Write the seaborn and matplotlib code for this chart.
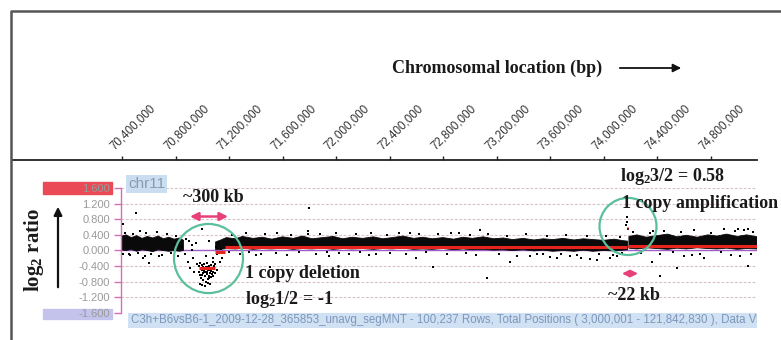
import numpy as np
import pandas as pd
import matplotlib
matplotlib.use("Agg")
import matplotlib.pyplot as plt
import matplotlib.transforms as mtrans
import seaborn as sns
from matplotlib.patches import Ellipse, Rectangle, FancyArrowPatch
from matplotlib.lines import Line2D

sns.set_theme(style="white")
plt.rcParams["font.family"] = ["Liberation Sans", "DejaVu Sans"]
plt.rcParams["mathtext.fontset"] = "custom"
plt.rcParams["mathtext.rm"] = "Liberation Serif:bold"
plt.rcParams["mathtext.it"] = "Liberation Serif:bold"
plt.rcParams["mathtext.bf"] = "Liberation Serif:bold"

# ---------------- data ----------------
x_ticks = [70.4e6, 70.8e6, 71.2e6, 71.6e6, 72.0e6, 72.4e6, 72.8e6,
           73.2e6, 73.6e6, 74.0e6, 74.4e6, 74.8e6]
x_tick_labels = ["70,400,000", "70,800,000", "71,200,000", "71,600,000",
                 "72,000,000", "72,400,000", "72,800,000", "73,200,000",
                 "73,600,000", "74,000,000", "74,400,000", "74,800,000"]
y_ticks = [1.6, 1.2, 0.8, 0.4, 0.0, -0.4, -0.8, -1.2, -1.6]
y_tick_labels = ["1.600", "1.200", "0.800", "0.400", "0.000",
                 "-0.400", "-0.800", "-1.200", "-1.600"]

# dense band of probe ratios (position in Mb, upper / lower edge)
band_pos_mb = [70.39, 70.43, 70.47, 70.51, 70.55, 70.59, 70.63, 70.67, 70.71,
               70.75, 70.79, 70.83, 70.86, np.nan,
               71.10, 71.14, 71.18, 71.25, 71.30, 71.38, 71.45, 71.52, 71.60,
               71.68, 71.75, 71.82, 71.90, 71.98, 72.05, 72.12, 72.20, 72.28,
               72.35, 72.42, 72.50, 72.58, 72.65, 72.72, 72.80, 72.88, 72.95,
               73.02, 73.10, 73.18, 73.25, 73.32, 73.40, 73.48, 73.55, 73.62,
               73.70, 73.78, 73.85, 73.92, 74.00, 74.08, 74.15, 74.18, np.nan,
               74.19, 74.25, 74.32, 74.40, 74.48, 74.55, 74.62, 74.70, 74.78,
               74.85, 74.92, 75.00, 75.07, 75.15]
band_hi = [0.36, 0.40, 0.33, 0.38, 0.31, 0.36, 0.32, 0.37, 0.30,
           0.34, 0.29, 0.32, 0.26, np.nan,
           0.22, 0.27, 0.33, 0.30, 0.36, 0.31, 0.34, 0.29, 0.35,
           0.31, 0.37, 0.30, 0.33, 0.36, 0.30, 0.34, 0.31, 0.35,
           0.30, 0.33, 0.37, 0.31, 0.34, 0.30, 0.33, 0.29, 0.34,
           0.31, 0.35, 0.30, 0.32, 0.28, 0.31, 0.27, 0.30, 0.28,
           0.31, 0.27, 0.30, 0.28, 0.26, 0.29, 0.25, 0.24, np.nan,
           0.36, 0.40, 0.34, 0.38, 0.42, 0.35, 0.39, 0.34, 0.40,
           0.37, 0.42, 0.36, 0.40, 0.35]
band_lo = [0.02, 0.00, 0.03, -0.02, 0.02, 0.00, -0.03, 0.02, 0.00,
           -0.02, 0.00, -0.02, 0.00, np.nan,
           0.02, 0.03, 0.05, 0.04, 0.06, 0.03, 0.05, 0.04, 0.06,
           0.03, 0.05, 0.04, 0.06, 0.03, 0.05, 0.04, 0.05, 0.03,
           0.05, 0.04, 0.06, 0.03, 0.04, 0.03, 0.05, 0.02, 0.04,
           0.02, 0.03, 0.01, 0.02, 0.00, 0.02, -0.01, 0.01, -0.02,
           0.00, -0.02, 0.01, -0.02, 0.00, -0.01, 0.01, 0.02, np.nan,
           0.06, 0.04, 0.07, 0.05, 0.03, 0.06, 0.04, 0.07, 0.05,
           0.04, 0.06, 0.03, 0.05, 0.04]

# probes inside the ~300 kb deletion (Mb, log2 ratio)
del_pos_mb = [70.975, 70.978, 70.982, 70.985, 70.988, 70.992, 70.995, 70.998,
              71.002, 71.005, 71.008, 71.012, 71.015, 71.018, 71.022, 71.025,
              71.028, 71.032, 71.035, 71.038, 71.042, 71.045, 71.048, 71.052,
              71.055, 71.058, 71.062, 71.065, 71.068, 71.072, 71.075, 71.078,
              71.082, 71.085, 71.088, 71.092, 71.095, 71.000, 71.020, 71.040,
              71.060, 71.080, 70.990, 71.010, 71.050]
del_val = [-0.40, -0.55, -0.32, -0.62, -0.45, -0.70, -0.38, -0.50,
           -0.58, -0.43, -0.75, -0.35, -0.52, -0.66, -0.47, -0.80,
           -0.41, -0.60, -0.55, -0.33, -0.72, -0.49, -0.64, -0.39,
           -0.57, -0.46, -0.68, -0.36, -0.52, -0.61, -0.44, -0.30,
           -0.55, -0.48, -0.40, -0.58, -0.35, -0.62, -0.56, -0.42,
           -0.50, -0.65, -0.48, -0.45, -0.70]

# scattered probes around the band (Mb, log2 ratio)
pt_pos_mb = [70.407, 70.505, 70.535, 70.998, 71.798, 71.790, 72.553, 72.920,
             73.077, 71.507, 72.725, 73.129, 73.300, 74.423, 74.363, 74.550,
             75.080, 75.006, 75.080, 74.370, 74.176, 74.176, 74.183, 74.168,
             70.600, 70.680, 70.790, 70.450, 70.560,
             70.85, 70.87, 70.89, 70.90, 70.91, 70.92, 70.93, 70.94, 70.95,
             70.96, 70.88, 70.92,
             71.10, 71.11, 71.12, 71.13, 71.14, 71.11, 71.15,
             70.98, 71.00, 71.02, 71.04, 71.06, 71.08, 71.03, 71.05,
             71.40, 71.95, 72.30, 72.60, 73.45, 73.65, 73.80, 73.95, 74.05,
             74.60, 74.75, 74.95, 72.10, 73.55, 73.90, 74.10]
pt_val = [0.69, 0.95, 0.50, 0.55, 1.10, 0.50, 0.45, 0.45,
          0.53, -0.43, -0.43, -0.70, -0.30, -0.65, -0.30, -0.45,
          -0.40, 0.56, 0.56, 0.50, 0.85, 0.72, 0.56, 0.65,
          -0.33, -0.13, -0.18, -0.10, -0.20,
          0.10, -0.10, -0.30, 0.25, -0.45, 0.00, -0.20, -0.55, 0.20,
          -0.35, 0.30, 0.15,
          0.10, -0.10, 0.20, -0.30, 0.05, -0.50, -0.20,
          -0.85, -0.88, -0.90, -0.82, -0.86, -0.20, -0.15, 0.25,
          -0.12, -0.15, -0.10, -0.18, -0.15, -0.20, -0.12, -0.25, -0.18,
          -0.15, -0.20, -0.12, -0.08, -0.10, -0.22, -0.15]

# probes on the ragged edges of the band (Mb, log2 ratio)
fringe_pos_mb = [70.42, 70.48, 70.58, 70.66, 70.74, 70.80,
                 71.22, 71.33, 71.47, 71.56, 71.66, 71.79, 71.88, 72.00,
                 72.15, 72.26, 72.38, 72.47, 72.62, 72.76, 72.86, 73.00,
                 73.14, 73.28, 73.42, 73.58, 73.72, 73.88, 74.02, 74.12,
                 74.22, 74.35, 74.45, 74.58, 74.68, 74.80, 74.90, 74.98,
                 75.05, 75.12,
                 70.41, 70.46, 70.52, 70.57, 70.62, 70.70, 70.77, 70.82,
                 71.20, 71.28, 71.35, 71.44, 71.55, 71.63, 71.72, 71.85,
                 71.93, 72.02, 72.18, 72.25, 72.40, 72.52, 72.67, 72.83,
                 72.97, 73.05, 73.22, 73.35, 73.50, 73.60, 73.68, 73.75,
                 73.83, 73.97, 74.07, 74.14, 74.28, 74.42, 74.52, 74.66,
                 74.72, 74.88, 75.02, 75.10]
fringe_val = [0.45, 0.42, 0.44, 0.47, 0.41, 0.38,
              0.40, 0.44, 0.42, 0.46, 0.40, 0.43, 0.41, 0.45,
              0.42, 0.44, 0.40, 0.46, 0.42, 0.41, 0.44, 0.40,
              0.42, 0.38, 0.41, 0.37, 0.40, 0.38, 0.36, 0.34,
              0.48, 0.46, 0.50, 0.47, 0.52, 0.46, 0.55, 0.49,
              0.52, 0.47,
              -0.08, -0.12, -0.06, -0.15, -0.09, -0.11, -0.07, -0.14,
              -0.05, -0.10, -0.04, -0.08, -0.06, -0.12, -0.05, -0.09,
              -0.04, -0.07, -0.05, -0.11, -0.06, -0.09, -0.05, -0.08,
              -0.06, -0.12, -0.09, -0.14, -0.10, -0.16, -0.08, -0.13,
              -0.18, -0.09, -0.12, -0.07, -0.06, -0.10, -0.04, -0.12,
              -0.08, -0.05, -0.15, -0.10]

# visible segmentation (segMNT) results
seg_start_mb = [70.975, 71.095, 71.17, 74.176, 74.184]
seg_end_mb = [71.095, 71.17, 74.176, 74.184, 75.15]
seg_val = [-0.45, -0.05, 0.09, 0.58, 0.12]

# ---------------- layout helpers ----------------
W, H = 781, 340
PX0, BP0 = 122.0, 70.4e6          # pixel of 70,400,000
PX_PER_BP = 53.5 / 4e5


def px2bp(px):
    return BP0 + (px - PX0) / PX_PER_BP


def fx(px):
    return px / W


def fy(py):
    return 1 - py / H


fig = plt.figure(figsize=(W / 100, H / 100), dpi=100)
fig.patch.set_facecolor("white")

# outer frame
fig.add_artist(Line2D([fx(11), fx(11), 1.0], [0.0, fy(11), fy(11)],
                      transform=fig.transFigure, color="#555555", lw=1.8))

# ---------------- main data axes ----------------
L, R, T, B = 121, 757, 188, 313
ax = fig.add_axes([fx(L), fy(B), fx(R - L), (B - T) / H])
ax.set_xlim(px2bp(L), px2bp(R))
ax.set_ylim(-1.6, 1.6)
ax.set_facecolor("none")
for s in ["top", "right", "bottom"]:
    ax.spines[s].set_visible(False)
ax.spines["left"].set_color("#d46fb3")
ax.spines["left"].set_linewidth(1.0)
ax.set_yticks(y_ticks)
ax.set_yticklabels(y_tick_labels, color="#9a9a9a", fontsize=8)
ax.tick_params(axis="y", direction="out", length=5, width=1.0,
               color="#d46fb3", pad=3, left=True)
ax.set_xticks([])
for v in y_ticks:
    if v == 0:
        continue
    ax.axhline(v, color="#d8c2c2", lw=0.8, ls=(0, (2.5, 1.5)), zorder=0)
ax.axhline(0.0, color="#a05cc8", lw=1.0, zorder=1)

bpos = np.array(band_pos_mb) * 1e6
ax.fill_between(bpos, band_lo, band_hi, color="#0a0a0a", lw=0.6,
                edgecolor="#0a0a0a", zorder=2)

pts = pd.DataFrame({
    "pos": np.concatenate([np.array(pt_pos_mb), np.array(fringe_pos_mb),
                           np.array(del_pos_mb)]) * 1e6,
    "val": list(pt_val) + list(fringe_val) + list(del_val)})
sns.scatterplot(data=pts, x="pos", y="val", ax=ax, marker="s", s=4,
                color="black", linewidth=0, zorder=3, legend=False)
ax.set_xlabel("")
ax.set_ylabel("")

ax.hlines(seg_val, np.array(seg_start_mb) * 1e6,
          np.array(seg_end_mb) * 1e6, color="#e8241f", lw=2.2, zorder=4)


# green circles (round in pixel space)
def circle_px(cx, cy, r):
    e = Ellipse((px2bp(cx), (250 - cy) * 0.4 / 15.6),
                width=2 * r / PX_PER_BP, height=2 * r * 0.4 / 15.6,
                fill=False, edgecolor="#5cbf9c", lw=1.6, zorder=5)
    ax.add_patch(e)


circle_px(208.5, 258, 34.5)
circle_px(628, 226, 28.5)

# pink double arrows
ax.annotate("", xy=(px2bp(228), 0.87), xytext=(px2bp(190), 0.87),
            arrowprops=dict(arrowstyle="<|-|>", color="#e8407a", lw=1.8,
                            mutation_scale=12, shrinkA=0, shrinkB=0),
            annotation_clip=False)
ax.annotate("", xy=(px2bp(638), -0.59), xytext=(px2bp(622), -0.59),
            arrowprops=dict(arrowstyle="<|-|>", color="#e8407a", lw=1.5,
                            mutation_scale=10, shrinkA=0, shrinkB=0),
            annotation_clip=False)

# ---------------- top chromosomal axis ----------------
axt = fig.add_axes([fx(12), fy(170), fx(R - 12), 10 / H])
axt.set_xlim(px2bp(12), px2bp(R))
axt.set_facecolor("none")
for s in ["left", "right", "bottom"]:
    axt.spines[s].set_visible(False)
axt.spines["top"].set_color("#222222")
axt.spines["top"].set_linewidth(1.3)
axt.set_yticks([])
axt.xaxis.tick_top()
axt.set_xticks(x_ticks)
axt.set_xticklabels(x_tick_labels, rotation=45, ha="left", va="bottom",
                    rotation_mode="anchor", fontsize=8.3, color="#333333")
axt.tick_params(axis="x", direction="out", length=3, width=1.0,
                color="#222222", pad=3)
off = mtrans.ScaledTranslation(-5 / 100, 0, fig.dpi_scale_trans)
for lab in axt.get_xticklabels():
    lab.set_transform(lab.get_transform() + off)

# ---------------- boxes and labels ----------------
fig.add_artist(Rectangle((fx(43), fy(194)), fx(112 - 43), 12 / H,
                         transform=fig.transFigure, color="#ea4a55", zorder=0))
fig.add_artist(Rectangle((fx(43), fy(319)), fx(112 - 43), 10 / H,
                         transform=fig.transFigure, color="#c3c3ec", zorder=0))

fig.text(fx(128), fy(184), "chr11", fontsize=11, color="#8a9bb0",
         va="center", ha="left",
         bbox=dict(boxstyle="square,pad=0.1", fc="#c9def0", ec="none"))

axi = fig.add_axes([fx(128), fy(328), fx(R - 128), 15 / H])
axi.set_facecolor("#cfe1f2")
for s in axi.spines.values():
    s.set_visible(False)
axi.set_xticks([])
axi.set_yticks([])
axi.text(0.004, 0.5,
         "C3h+B6vsB6-1_2009-12-28_365853_unavg_segMNT - 100,237 Rows, "
         "Total Positions ( 3,000,001 - 121,842,830 ), Data View",
         transform=axi.transAxes, fontsize=8.3, color="#7d97bb",
         va="center", ha="left", clip_on=True)

serif = dict(family=["Liberation Serif", "DejaVu Serif"], weight="bold",
             color="#1a1a1a")
fig.text(fx(392), fy(68), "Chromosomal location (bp)", fontsize=13,
         va="center", ha="left", **serif)
fig.add_artist(FancyArrowPatch(
    (fx(617), fy(68)), (fx(684), fy(68)), transform=fig.transFigure,
    arrowstyle="-|>", mutation_scale=12, color="#111111", lw=1.3))

fig.text(fx(34), fy(250), "log$_2$ ratio", fontsize=15, rotation=90,
         va="center", ha="center", **serif)
fig.add_artist(FancyArrowPatch(
    (fx(58), fy(290)), (fx(58), fy(204)), transform=fig.transFigure,
    arrowstyle="-|>", mutation_scale=12, color="#111111", lw=1.6))

fig.text(fx(183), fy(198), "~300 kb", fontsize=13, va="center",
         ha="left", **serif)
fig.text(fx(245), fy(274), "1 copy deletion", fontsize=13, va="center",
         ha="left", **serif)
fig.text(fx(245), fy(300), "log$_2$1/2 = -1", fontsize=13, va="center",
         ha="left", **serif)
fig.text(fx(620), fy(176), "log$_2$3/2 = 0.58", fontsize=13, va="center",
         ha="left", **serif)
fig.text(fx(622), fy(203), "1 copy amplification", fontsize=13,
         va="center", ha="left", **serif)
fig.text(fx(608), fy(296), "~22 kb", fontsize=13, va="center",
         ha="left", **serif)

fig.savefig("out.png", dpi=100, facecolor="white")
